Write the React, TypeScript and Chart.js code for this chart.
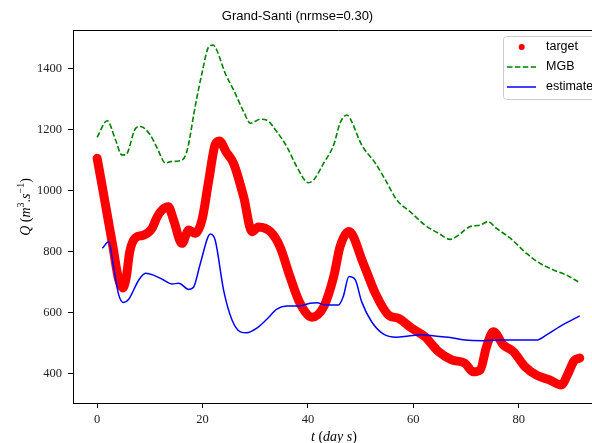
import React, { useEffect, useRef } from "react";
import { Chart, registerables } from "chart.js";

Chart.register(...registerables);

// ---- data ----
const targetDays = [0, 1, 2, 3, 4.1, 4.9, 5.5, 6.2, 7.3, 8.8, 10.4, 11.4, 12.3, 13.5, 14.5, 16.1, 17.4, 18.6, 19.9, 21.2, 22.4, 23.2, 24.5, 25.9, 27.8, 29.4, 30.6, 32.9, 34.7, 36.6, 38.5, 40.8, 43, 44.9, 46.1, 47.8, 50.5, 52.8, 55.3, 57.2, 59.7, 62.2, 64.8, 67.3, 69.8, 71.4, 72.7, 73.9, 75.2, 77.1, 79, 81.2, 83.4, 85.9, 88.1, 89.4, 90.5, 91.6];
const targetQ = [1105, 1010, 912, 815, 706, 680, 712, 800, 845, 853, 875, 913, 935, 946, 903, 826, 870, 859, 903, 1034, 1150, 1162, 1125, 1088, 979, 864, 880, 864, 815, 717, 630, 584, 618, 717, 815, 865, 761, 662, 591, 580, 548, 520, 471, 444, 433, 405, 411, 487, 536, 493, 471, 422, 394, 378, 362, 400, 440, 450];

const mgbDays = [0, 1.9, 3.5, 4.7, 5.4, 7.3, 8.2, 10.1, 11.4, 13, 13.9, 16.1, 17.1, 18.6, 19.9, 21.2, 22, 22.7, 24.3, 25.9, 27.8, 29.1, 31, 32.2, 34.1, 36, 37.9, 40.1, 41.1, 43, 44.9, 46.1, 47.4, 48, 50.2, 52.8, 54.7, 56.9, 59.4, 62.2, 64.8, 67, 68.6, 69.8, 70.8, 72.7, 74.2, 75.8, 78.4, 81.5, 84, 86.6, 89.1, 91.3];
const mgbQ = [1174, 1228, 1165, 1116, 1116, 1203, 1209, 1181, 1138, 1089, 1094, 1099, 1132, 1274, 1384, 1471, 1476, 1460, 1384, 1329, 1258, 1220, 1233, 1230, 1192, 1143, 1077, 1025, 1034, 1089, 1149, 1220, 1247, 1236, 1149, 1089, 1034, 968, 930, 886, 859, 839, 853, 870, 881, 886, 897, 875, 843, 793, 761, 739, 722, 700];

const estDays = [1, 2.2, 3.2, 4.1, 5, 6, 7.9, 9.2, 10.7, 12.6, 14.2, 15.5, 17.4, 18.3, 19.6, 21.5, 22.4, 24, 25.6, 27.2, 28.4, 30.3, 32.2, 34.1, 36, 38.5, 40.4, 41.7, 43.3, 45.8, 46.7, 47.8, 49, 50.2, 52.1, 54.3, 56.8, 59.1, 61.6, 64.1, 66.7, 69.8, 73.3, 76.5, 83.4, 85.3, 87.8, 91.6];
const estQ = [810, 831, 740, 657, 632, 643, 706, 728, 722, 706, 693, 695, 675, 682, 761, 857, 837, 673, 575, 536, 533, 548, 577, 610, 621, 621, 630, 631, 624, 624, 651, 717, 706, 635, 569, 529, 518, 522, 526, 522, 518, 509, 507, 509, 509, 526, 553, 588];

const xTicks = [0, 20, 40, 60, 80];
const yTicks = [400, 600, 800, 1000, 1200, 1400];
const legendLabels = ["target", "MGB", "estimate"];
const TITLE = "Grand-Santi (nrmse=0.30)";

const X_MIN = -4.58;
const X_MAX = 96.2;
const Y_MIN = 302.6;
const Y_MAX = 1525.6;

const RED = "#ff0000";
const GREEN = "#008000";
const BLUE = "#0000ff";

type Seg = { t: string; it?: boolean; sup?: boolean };

function drawRich(ctx: CanvasRenderingContext2D, segs: Seg[], size: number) {
  const fontFor = (s: Seg) =>
    `${s.it ? "italic " : ""}${s.sup ? Math.round(size * 0.7) : size}px "Liberation Serif"`;
  let w = 0;
  for (const s of segs) {
    ctx.font = fontFor(s);
    w += ctx.measureText(s.t).width;
  }
  let x = -w / 2;
  const base = size * 0.33;
  ctx.textAlign = "left";
  ctx.textBaseline = "alphabetic";
  for (const s of segs) {
    ctx.font = fontFor(s);
    ctx.fillText(s.t, x, s.sup ? base - size * 0.42 : base);
    x += ctx.measureText(s.t).width;
  }
}

const overlay = {
  id: "overlay",
  afterDraw(chart: any) {
    const ctx: CanvasRenderingContext2D = chart.ctx;
    const a = chart.chartArea;
    ctx.save();
    // top spine
    ctx.strokeStyle = "#000";
    ctx.lineWidth = 1;
    ctx.beginPath();
    ctx.moveTo(a.left, Math.round(a.top) + 0.5);
    ctx.lineTo(a.right, Math.round(a.top) + 0.5);
    ctx.stroke();

    // title
    ctx.fillStyle = "#000";
    ctx.font = '13px "Liberation Sans"';
    ctx.textAlign = "center";
    ctx.textBaseline = "middle";
    ctx.fillText(TITLE, 297.5, 16);

    // y label
    ctx.save();
    ctx.translate(25, 207);
    ctx.rotate(-Math.PI / 2);
    drawRich(
      ctx,
      [
        { t: "Q", it: true },
        { t: " (" },
        { t: "m", it: true },
        { t: "3", sup: true },
        { t: "." },
        { t: "s", it: true },
        { t: "−1", sup: true },
        { t: ")" },
      ],
      14
    );
    ctx.restore();

    // x label
    ctx.save();
    ctx.translate(334, 436);
    drawRich(
      ctx,
      [{ t: "t", it: true }, { t: " (" }, { t: "day s", it: true }, { t: ")" }],
      14
    );
    ctx.restore();

    // legend
    ctx.fillStyle = "rgba(255,255,255,0.8)";
    ctx.strokeStyle = "#cccccc";
    ctx.lineWidth = 1;
    ctx.beginPath();
    (ctx as any).roundRect(503.5, 36.5, 120, 63, 3);
    ctx.fill();
    ctx.stroke();

    const rows = [47, 67, 87];
    // target marker
    ctx.fillStyle = RED;
    ctx.beginPath();
    ctx.arc(521.7, rows[0], 3, 0, Math.PI * 2);
    ctx.fill();
    // MGB
    ctx.strokeStyle = GREEN;
    ctx.lineWidth = 1.5;
    ctx.setLineDash([5.5, 2.4]);
    ctx.beginPath();
    ctx.moveTo(507, rows[1]);
    ctx.lineTo(536, rows[1]);
    ctx.stroke();
    ctx.setLineDash([]);
    // estimate
    ctx.strokeStyle = BLUE;
    ctx.beginPath();
    ctx.moveTo(507, rows[2]);
    ctx.lineTo(536, rows[2]);
    ctx.stroke();

    ctx.fillStyle = "#000";
    ctx.font = '12.5px "Liberation Sans"';
    ctx.textAlign = "left";
    ctx.textBaseline = "middle";
    legendLabels.forEach((l, i) => ctx.fillText(l, 546, rows[i]));
    ctx.restore();
  },
};

function pts(xs: number[], ys: number[]) {
  return xs.map((x, i) => ({ x, y: ys[i] }));
}

export default function App() {
  const ref = useRef<HTMLCanvasElement | null>(null);
  useEffect(() => {
    if (!ref.current) return;
    const chart = new Chart(ref.current, {
      type: "line",
      data: {
        datasets: [
          {
            label: "target",
            data: pts(targetDays, targetQ),
            borderColor: RED,
            backgroundColor: RED,
            borderWidth: 9,
            borderCapStyle: "round",
            borderJoinStyle: "round",
            pointRadius: 0,
            cubicInterpolationMode: "monotone",
            order: 3,
          },
          {
            label: "MGB",
            data: pts(mgbDays, mgbQ),
            borderColor: GREEN,
            borderWidth: 1.6,
            borderDash: [5.5, 2.4],
            pointRadius: 0,
            cubicInterpolationMode: "monotone",
            order: 2,
          },
          {
            label: "estimate",
            data: pts(estDays, estQ),
            borderColor: BLUE,
            borderWidth: 1.5,
            pointRadius: 0,
            cubicInterpolationMode: "monotone",
            order: 1,
          },
        ],
      } as any,
      options: {
        responsive: false,
        animation: false,
        devicePixelRatio: 1,
        layout: { padding: { top: 30, right: 8, left: 0, bottom: 0 } },
        plugins: {
          legend: { display: false },
          title: { display: false },
          tooltip: { enabled: false },
        },
        scales: {
          x: {
            type: "linear",
            min: X_MIN,
            max: X_MAX,
            afterBuildTicks: (s: any) => {
              s.ticks = xTicks.map((v) => ({ value: v }));
            },
            afterFit: (s: any) => {
              s.height = 40;
            },
            grid: {
              drawOnChartArea: false,
              drawTicks: true,
              tickLength: 5,
              color: "#000",
            },
            border: { display: true, color: "#000", width: 1 },
            ticks: {
              color: "#222",
              padding: 4,
              maxRotation: 0,
              autoSkip: false,
              callback: (v: any) => String(v),
              font: { family: "Liberation Serif", size: 12.5 },
            },
          },
          y: {
            type: "linear",
            min: Y_MIN,
            max: Y_MAX,
            afterBuildTicks: (s: any) => {
              s.ticks = yTicks.map((v) => ({ value: v }));
            },
            afterFit: (s: any) => {
              s.width = 73;
            },
            grid: {
              drawOnChartArea: false,
              drawTicks: true,
              tickLength: 5,
              color: "#000",
            },
            border: { display: true, color: "#000", width: 1 },
            ticks: {
              color: "#222",
              padding: 6,
              autoSkip: false,
              callback: (v: any) => String(v),
              font: { family: "Liberation Serif", size: 12.5 },
            },
          },
        },
      } as any,
      plugins: [overlay],
    });
    return () => chart.destroy();
  }, []);

  return (
    <div
      style={{
        position: "fixed",
        left: 0,
        top: 0,
        width: 592,
        height: 443,
        overflow: "hidden",
        background: "#fff",
      }}
    >
      <canvas ref={ref} width={612} height={443} style={{ display: "block", width: 612, height: 443 }} />
    </div>
  );
}
